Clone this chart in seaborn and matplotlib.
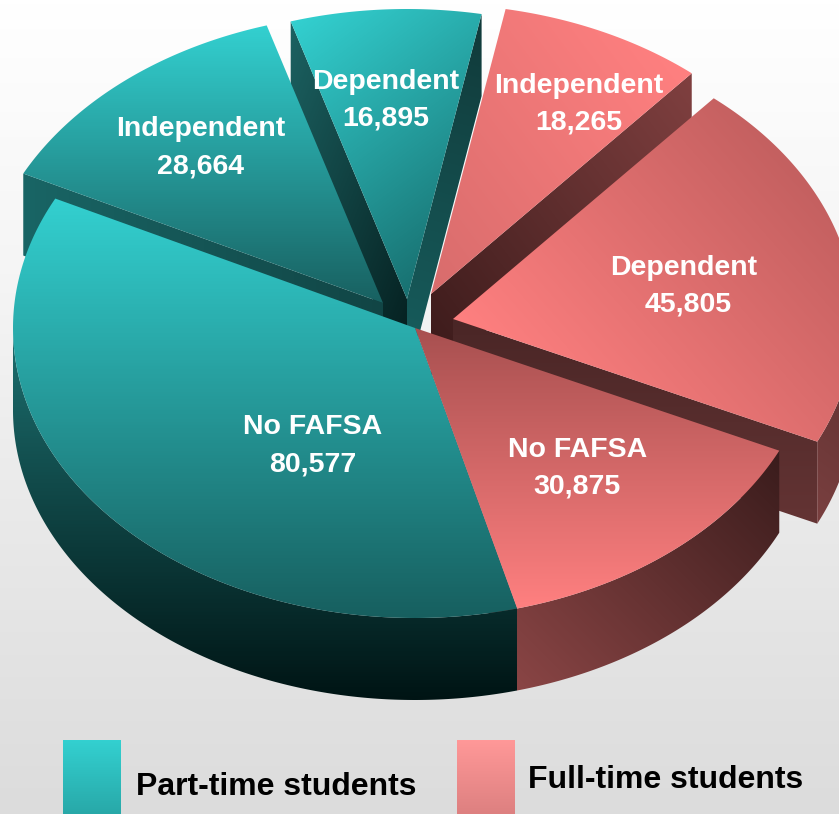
import numpy as np
import matplotlib
matplotlib.use("Agg")
import matplotlib.pyplot as plt
from matplotlib.patches import Polygon
import seaborn as sns

# =========================
# Data (counterclockwise, starting at the front)
# =========================
names = ["No FAFSA", "Dependent", "Independent", "Dependent", "Independent", "No FAFSA"]
counts = [30875, 45805, 18265, 16895, 28664, 80577]

sns.set_theme(style="white")
plt.rcParams['font.family'] = ['Liberation Sans', 'DejaVu Sans']

W, H = 839, 814
CX, CY = 415, 328
RX, RY = 402, 290
DEPTH = 82
START = -75.3

# explode offset in pixels, same order as counts
shift = [(0, 0), (38, -9), (16, -34), (-8, -29), (-32, -25), (0, 0)]

# gradients: (start colour, end colour, direction x, direction y)
top_style = [
    ("#a85050", "#ff8080", 0, 1),
    ("#ff8080", "#c46060", 0.75, -0.66),
    ("#d86c6c", "#ff8080", 0.8, -0.6),
    ("#33d0d0", "#187070", 0.6, 0.8),
    ("#33d0d0", "#186060", 0, 1),
    ("#33d0d0", "#175f5f", 0, 1),
]
rim_style = [
    ("#8a4545", "#3a1c1c", 0.7, -0.7),
    ("#7a4040", "#5c2e2e", 0.6, -0.8),
    None,
    None,
    None,
    ("#1d7070", "#001414", 0, 1),
]
# walls of the cut faces, first and second edge of the slice
wall_a = [
    ("#5f3030", "#5f3030", 1, 0),
    ("#4a2626", "#643434", 0, 1),
    ("#3a1a1a", "#804040", 0.8, -0.6),
    ("#175f5f", "#113a3a", 0.3, -1),
    None,
    None,
]
wall_b = [
    None,
    None,
    None,
    ("#1c6262", "#041c1c", 1, 0.4),
    ("#196565", "#114545", 1, 0),
    None,
]

# back to front
draw_order = [3, 4, 2, 1, 0, 5]

fig = plt.figure(figsize=(W / 100, H / 100), dpi=100)
ax = fig.add_axes([0, 0, 1, 1])
ax.set_axis_off()


def grad_fill(pts, style, zorder=1):
    pts = np.asarray(pts)
    c0, c1, dx, dy = style
    n = np.hypot(dx, dy)
    dx, dy = dx / n, dy / n
    x0, y0 = np.floor(pts.min(axis=0))
    x1, y1 = np.ceil(pts.max(axis=0))
    xx, yy = np.meshgrid(np.arange(x0, x1 + 1), np.arange(y0, y1 + 1))
    proj = pts[:, 0] * dx + pts[:, 1] * dy
    t = ((xx * dx + yy * dy) - proj.min()) / max(proj.max() - proj.min(), 1)
    cmap = sns.blend_palette([c0, c1], as_cmap=True)
    im = ax.imshow(t, cmap=cmap, vmin=0, vmax=1, extent=(x0, x1 + 1, y1 + 1, y0),
                   aspect="auto", zorder=zorder, interpolation="bilinear")
    im.set_clip_path(Polygon(pts, closed=True, transform=ax.transData))


def ell(cx, cy, deg):
    rad = np.radians(deg)
    return np.column_stack([cx + RX * np.cos(rad), cy - RY * np.sin(rad)])


# =========================
# Background
# =========================
bg = sns.blend_palette(["#ffffff", "#f5f5f5", "#e8e8e8", "#dcdcdc"], as_cmap=True)
ax.imshow(np.linspace(0, 1, H).reshape(-1, 1), cmap=bg, extent=(0, W, H, 0),
          aspect="auto", zorder=0)

# =========================
# Slices
# =========================
sweep = np.array(counts) / sum(counts) * 360
edges = START + np.concatenate([[0], np.cumsum(sweep)])

z = 1
for i in draw_order:
    a0, a1 = edges[i], edges[i + 1]
    cx, cy = CX + shift[i][0], CY + shift[i][1]
    apex = np.array([[cx, cy]])
    down = np.array([0, DEPTH])

    for ang, style in ((a0, wall_a[i]), (a1, wall_b[i])):
        if style is not None:
            tip = ell(cx, cy, np.array([ang]))
            quad = np.vstack([apex, tip, tip + down, apex + down])
            grad_fill(quad, style, z)
            z += 1

    if rim_style[i] is not None:
        deg = np.linspace(a0, a1, 300)
        deg = deg[np.sin(np.radians(deg)) < 0]
        arc = ell(cx, cy, deg)
        grad_fill(np.vstack([arc, (arc + down)[::-1]]), rim_style[i], z)
        z += 1

    deg = np.linspace(a0, a1, 300)
    grad_fill(np.vstack([apex, ell(cx, cy, deg)]), top_style[i], z)
    z += 1

# =========================
# Labels
# =========================
name_pos = [(578, 450), (684, 268), (579, 86), (386, 82), (201, 129), (313, 427)]
num_pos = [(577, 486), (688, 305), (579, 122), (386, 118), (201, 166), (313, 464)]
for i in range(len(counts)):
    ax.text(*name_pos[i], names[i], color="white", fontsize=20.5, fontweight="bold",
            ha="center", va="center", zorder=50)
    ax.text(*num_pos[i], f"{counts[i]:,}", color="white", fontsize=20.5, fontweight="bold",
            ha="center", va="center", zorder=50)

# =========================
# Legend
# =========================
grad_fill([(63, 740), (121, 740), (121, 814), (63, 814)], ("#33d0d0", "#28a8a8", 0, 1), 40)
grad_fill([(457, 740), (515, 740), (515, 814), (457, 814)], ("#ff9898", "#dd8080", 0, 1), 40)
ax.text(136, 787, "Part-time students", color="black", fontsize=23, fontweight="bold",
        ha="left", va="center", zorder=50)
ax.text(528, 780, "Full-time students", color="black", fontsize=23, fontweight="bold",
        ha="left", va="center", zorder=50)

ax.set_xlim(0, W)
ax.set_ylim(H, 0)
fig.savefig("out.png", dpi=100)
